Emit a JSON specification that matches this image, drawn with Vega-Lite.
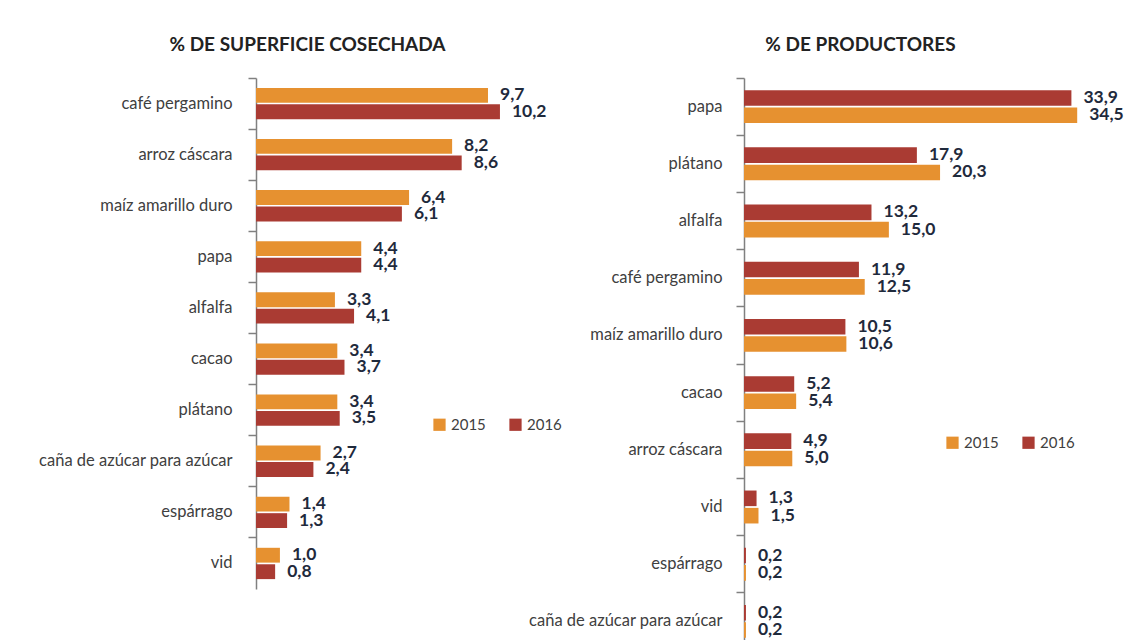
{
  "$schema": "https://vega.github.io/schema/vega-lite/v6.json",
  "background": "white",
  "padding": {"left": 38, "top": 36, "right": 0, "bottom": 0},
  "config": {
    "font": "Lato",
    "locale": {"number": {"decimal": ",", "thousands": ".", "grouping": [3], "currency": ["", " €"]}},
    "view": {"stroke": null},
    "axisY": {"domainColor": "#808080", "domainWidth": 1.5, "tickColor": "#808080", "tickWidth": 1.5, "tickSize": 8, "labelFontSize": 16.5, "labelColor": "#404040", "labelLimit": 400, "title": null, "labelPadding": 16},
    "legend": {"orient": "none", "direction": "horizontal", "title": null, "symbolType": "square", "symbolSize": 150, "symbolStrokeWidth": 0, "symbolOpacity": 1, "labelFontSize": 15, "labelColor": "#404040", "labelOffset": 4, "columnPadding": 22},
    "title": {"fontSize": 19, "fontWeight": "bold", "color": "#222222", "anchor": "middle", "offset": 22}
  },
  "datasets": {
    "superficie": [
      {"cultivo": "café pergamino", "anio": "2015", "valor": 9.7},
      {"cultivo": "café pergamino", "anio": "2016", "valor": 10.2},
      {"cultivo": "arroz cáscara", "anio": "2015", "valor": 8.2},
      {"cultivo": "arroz cáscara", "anio": "2016", "valor": 8.6},
      {"cultivo": "maíz amarillo duro", "anio": "2015", "valor": 6.4},
      {"cultivo": "maíz amarillo duro", "anio": "2016", "valor": 6.1},
      {"cultivo": "papa", "anio": "2015", "valor": 4.4},
      {"cultivo": "papa", "anio": "2016", "valor": 4.4},
      {"cultivo": "alfalfa", "anio": "2015", "valor": 3.3},
      {"cultivo": "alfalfa", "anio": "2016", "valor": 4.1},
      {"cultivo": "cacao", "anio": "2015", "valor": 3.4},
      {"cultivo": "cacao", "anio": "2016", "valor": 3.7},
      {"cultivo": "plátano", "anio": "2015", "valor": 3.4},
      {"cultivo": "plátano", "anio": "2016", "valor": 3.5},
      {"cultivo": "caña de azúcar para azúcar", "anio": "2015", "valor": 2.7},
      {"cultivo": "caña de azúcar para azúcar", "anio": "2016", "valor": 2.4},
      {"cultivo": "espárrago", "anio": "2015", "valor": 1.4},
      {"cultivo": "espárrago", "anio": "2016", "valor": 1.3},
      {"cultivo": "vid", "anio": "2015", "valor": 1.0},
      {"cultivo": "vid", "anio": "2016", "valor": 0.8}
    ],
    "productores": [
      {"cultivo": "papa", "anio": "2016", "valor": 33.9},
      {"cultivo": "papa", "anio": "2015", "valor": 34.5},
      {"cultivo": "plátano", "anio": "2016", "valor": 17.9},
      {"cultivo": "plátano", "anio": "2015", "valor": 20.3},
      {"cultivo": "alfalfa", "anio": "2016", "valor": 13.2},
      {"cultivo": "alfalfa", "anio": "2015", "valor": 15.0},
      {"cultivo": "café pergamino", "anio": "2016", "valor": 11.9},
      {"cultivo": "café pergamino", "anio": "2015", "valor": 12.5},
      {"cultivo": "maíz amarillo duro", "anio": "2016", "valor": 10.5},
      {"cultivo": "maíz amarillo duro", "anio": "2015", "valor": 10.6},
      {"cultivo": "cacao", "anio": "2016", "valor": 5.2},
      {"cultivo": "cacao", "anio": "2015", "valor": 5.4},
      {"cultivo": "arroz cáscara", "anio": "2016", "valor": 4.9},
      {"cultivo": "arroz cáscara", "anio": "2015", "valor": 5.0},
      {"cultivo": "vid", "anio": "2016", "valor": 1.3},
      {"cultivo": "vid", "anio": "2015", "valor": 1.5},
      {"cultivo": "espárrago", "anio": "2016", "valor": 0.2},
      {"cultivo": "espárrago", "anio": "2015", "valor": 0.2},
      {"cultivo": "caña de azúcar para azúcar", "anio": "2016", "valor": 0.2},
      {"cultivo": "caña de azúcar para azúcar", "anio": "2015", "valor": 0.2}
    ]
  },
  "bounds": "flush",
  "spacing": 201,
  "resolve": {"scale": {"color": "independent", "x": "independent", "y": "independent", "yOffset": "independent"}, "legend": {"color": "independent"}},
  "hconcat": [
    {
      "width": 287,
      "height": 511,
      "data": {"name": "superficie"},
      "title": {"text": "% DE SUPERFICIE COSECHADA", "dx": -92},
      "encoding": {
        "y": {"field": "cultivo", "type": "nominal", "sort": ["café pergamino", "arroz cáscara", "maíz amarillo duro", "papa", "alfalfa", "cacao", "plátano", "caña de azúcar para azúcar", "espárrago", "vid"], "scale": {"paddingInner": 0, "paddingOuter": 0}, "axis": {"bandPosition": 0, "labelPadding": 16}},
        "yOffset": {"field": "anio", "type": "nominal", "sort": ["2015", "2016"], "scale": {"paddingInner": 0.1, "paddingOuter": 0.6}},
        "x": {"field": "valor", "type": "quantitative", "scale": {"domain": [0, 12]}, "axis": null}
      },
      "layer": [
        {
          "mark": {"type": "bar"},
          "encoding": {
            "color": {"field": "anio", "type": "nominal", "scale": {"domain": ["2015", "2016"], "range": ["#E69130", "#AA3B33"]}, "legend": {"legendX": 176, "legendY": 339}}
          }
        },
        {
          "mark": {"type": "text", "align": "left", "baseline": "middle", "dx": 12, "fontWeight": "bold", "fontSize": 17.5, "color": "#1f2a3c"},
          "encoding": {"text": {"field": "valor", "type": "quantitative", "format": ".1f"}}
        }
      ]
    },
    {
      "width": 367,
      "height": 572,
      "data": {"name": "productores"},
      "title": {"text": "% DE PRODUCTORES", "dx": -67},
      "encoding": {
        "y": {"field": "cultivo", "type": "nominal", "sort": ["papa", "plátano", "alfalfa", "café pergamino", "maíz amarillo duro", "cacao", "arroz cáscara", "vid", "espárrago", "caña de azúcar para azúcar"], "scale": {"paddingInner": 0, "paddingOuter": 0}, "axis": {"bandPosition": 0, "labelPadding": 14}},
        "yOffset": {"field": "anio", "type": "nominal", "sort": ["2016", "2015"], "scale": {"paddingInner": 0.1, "paddingOuter": 0.7}},
        "x": {"field": "valor", "type": "quantitative", "scale": {"domain": [0, 38]}, "axis": null}
      },
      "layer": [
        {
          "mark": {"type": "bar"},
          "encoding": {
            "color": {"field": "anio", "type": "nominal", "scale": {"domain": ["2015", "2016"], "range": ["#E69130", "#AA3B33"]}, "legend": {"legendX": 201, "legendY": 357}}
          }
        },
        {
          "mark": {"type": "text", "align": "left", "baseline": "middle", "dx": 12, "fontWeight": "bold", "fontSize": 17.5, "color": "#1f2a3c"},
          "encoding": {"text": {"field": "valor", "type": "quantitative", "format": ".1f"}}
        }
      ]
    }
  ]
}
